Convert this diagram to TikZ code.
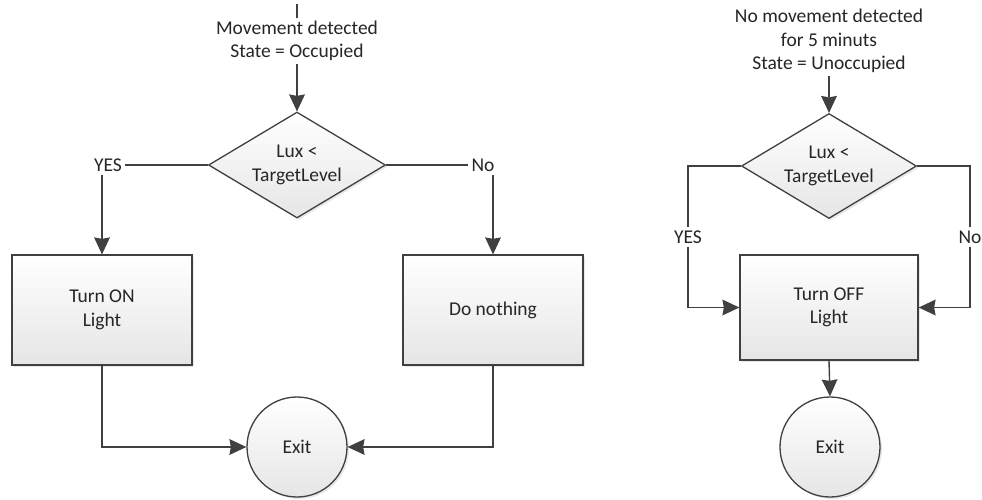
\documentclass[tikz,border=0pt]{standalone}
\usepackage{fontspec}
\setmainfont{Carlito}
\usetikzlibrary{shapes.geometric,arrows.meta,shadows}
\begin{document}
\begin{tikzpicture}[x=1pt,y=-1pt,
  every node/.style={font=\fontsize{19.5}{23.5}\selectfont, text=black!85, align=center},
  ln/.style={draw=black!75, line width=1.4pt},
  arr/.style={ln, -{Stealth[length=17pt,width=16pt,inset=1.5pt,line width=0pt]}},
  shade/.style={draw=black!75, line width=1.3pt, top color=white, bottom color=black!10,
     drop shadow={opacity=0.18, shadow xshift=2pt, shadow yshift=-2pt}},
  boxst/.style={rectangle, shade, inner sep=0pt},
  decst/.style={diamond, shade, aspect=1.67, inner sep=0pt, minimum width=177pt, minimum height=106pt},
  endst/.style={circle, shade, inner sep=0pt, minimum size=100pt},
  lbl/.style={inner sep=3pt}
]
\fill[white] (0,0) rectangle (982,499);
\useasboundingbox (0,0) rectangle (982,499);

% ---------- left flowchart ----------
\node[lbl] (start1) at (297,41) {Movement detected\\State = Occupied};
\coordinate (top1) at (297,4);
\node[decst] (d1) at (297,165) {Lux <\\TargetLevel};
\node[lbl] (yes1) at (108,165) {YES};
\node[lbl] (no1) at (483,165) {No};
\node[boxst, minimum width=180pt, minimum height=110pt] (b1) at (102,310) {Turn ON\\Light};
\node[boxst, minimum width=180pt, minimum height=110pt] (b2) at (493,310) {Do nothing};
\node[endst] (e1) at (297,447) {Exit};

\draw[ln] (start1.north) -- (top1);
\draw[arr] (start1.south) -- (d1.north);
\draw[ln] (d1.west) -- (yes1.east);
\draw[ln] (d1.east) -- (no1.west);
\draw[arr] (yes1.south -| b1.north) -- (b1.north);
\draw[arr] (no1.south -| b2.north) -- (b2.north);
\draw[arr] (b1.south) |- (e1.west);
\draw[arr] (b2.south) |- (e1.east);

% ---------- right flowchart ----------
\node[lbl] (start2) at (829,41) {No movement detected\\for 5 minuts\\State = Unoccupied};
\node[decst, minimum width=175pt, minimum height=105pt] (d2) at (829,166) {Lux <\\TargetLevel};
\node[lbl] (yes2) at (688,237) {YES};
\node[lbl] (no2) at (970,237) {No};
\node[boxst, minimum width=178pt, minimum height=105pt] (b3) at (829,307.5) {Turn OFF\\Light};
\node[endst] (e2) at (830,447) {Exit};

\draw[arr] (start2.south) -- (d2.north);
\draw[ln] (d2.west) -| (yes2.north);
\draw[ln] (d2.east) -| (no2.north);
\draw[arr] (yes2.south) |- (b3.west);
\draw[arr] (no2.south) |- (b3.east);
\draw[arr] (b3.south) -- (e2.north);
\end{tikzpicture}
\end{document}
